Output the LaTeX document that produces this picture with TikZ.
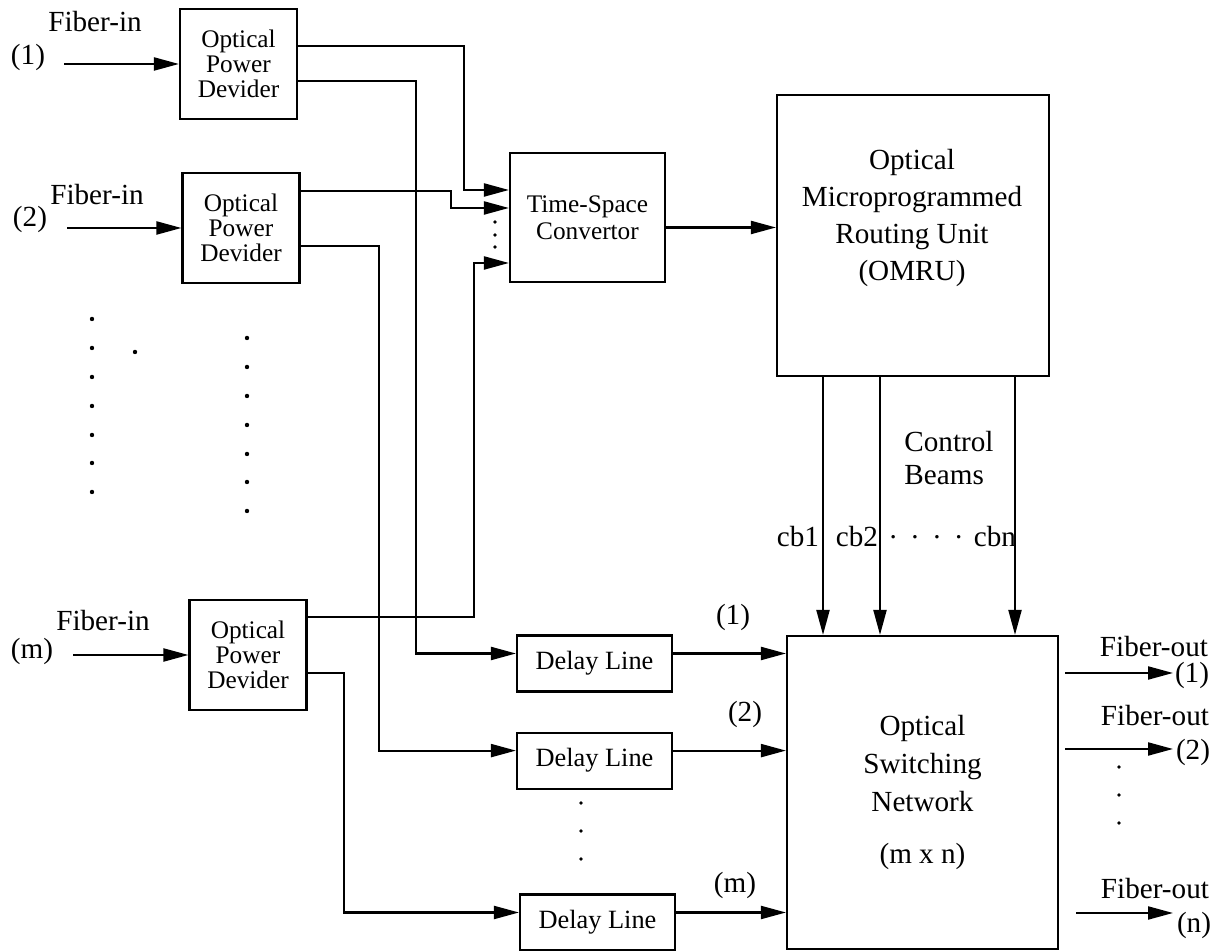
\documentclass[tikz,border=0pt]{standalone}
\usepackage{fontspec}
\setmainfont{Liberation Serif}
\usetikzlibrary{arrows.meta,calc,positioning}
\tikzstyle{pdiv} = [rectangle, draw, fill=white, minimum width=1.17cm, minimum height=1.1cm, inner sep=0pt, align=center, font=\fontsize{7.2}{7.2}\selectfont]
\tikzstyle{delay} = [rectangle, draw, fill=white, minimum width=1.55cm, minimum height=0.56cm, inner sep=0pt, font=\fontsize{7.5}{9}\selectfont]
\tikzstyle{unit} = [rectangle, draw, fill=white, inner sep=0pt, align=center, font=\fontsize{8.3}{10.8}\selectfont]
\tikzstyle{lbl} = [inner sep=0pt, font=\fontsize{8.3}{9.5}\selectfont]

\begin{document}
\begin{tikzpicture}[->,>={Triangle[length=2.5mm,width=1.3mm]},line width=0.6pt]
  \useasboundingbox (0,0) rectangle (12.21,-9.51);

  % power dividers
  \node[pdiv] (PD1) at (2.385,-0.64) {Optical\\Power\\Devider};
  \node[pdiv] (PD2) at (2.41,-2.28) {Optical\\Power\\Devider};
  \node[pdiv] (PDm) at (2.48,-6.55) {Optical\\Power\\Devider};

  % fiber inputs
  \coordinate (in1) at (0.64,-0.64);
  \coordinate (in2) at (0.67,-2.28);
  \coordinate (inm) at (0.73,-6.55);
  \node[lbl] (fin1) at (0.95,-0.22) {Fiber-in};
  \node[lbl] (num1) at (0.28,-0.58) {(1)};
  \node[lbl] (fin2) at (0.97,-1.95) {Fiber-in};
  \node[lbl] (num2) at (0.30,-2.20) {(2)};
  \node[lbl] (finm) at (1.03,-6.21) {Fiber-in};
  \node[lbl] (numm) at (0.32,-6.51) {(m)};
  \path (in1) edge (PD1);
  \path (in2) edge (PD2);
  \path (inm) edge (PDm);

  % time-space convertor and routing unit
  \node[unit, minimum width=1.55cm, minimum height=1.29cm, font=\fontsize{7.2}{7.8}\selectfont] (TSC) at (5.875,-2.175) {Time-Space\\Convertor};
  \node[unit, minimum width=2.72cm, minimum height=2.81cm] (OMRU) at (9.13,-2.355) {};
  \node[lbl, align=center, font=\fontsize{8.3}{10.6}\selectfont] (OMRUtext) at (9.12,-2.18) {Optical\\Microprogrammed\\Routing Unit\\(OMRU)};

  % switching network and delay lines
  \node[unit, minimum width=2.71cm, minimum height=3.13cm] (OSN) at (9.225,-7.925) {Optical\\Switching\\Network\\[4pt](m x n)};
  \node[delay] (DL1) at (5.945,-6.635) {Delay Line};
  \node[delay, below=0.39cm of DL1] (DL2) {Delay Line};
  \node[delay] (DLm) at (5.975,-9.225) {Delay Line};

  % into the convertor
  \coordinate (t1) at ([yshift=2.75mm]TSC.west);
  \coordinate (t2) at ([yshift=0.95mm]TSC.west);
  \coordinate (t3) at ([yshift=-4.55mm]TSC.west);
  \draw ([yshift=1.8mm]PD1.east) -| ($(t1)+(-0.45,0)$) -- (t1);
  \draw ([yshift=3.7mm]PD2.east) -| ($(t2)+(-0.58,0)$) -- (t2);
  \draw ([yshift=3.8mm]PDm.east) -| ($(t3)+(-0.35,0)$) -- (t3);
  \coordinate (tout) at ([yshift=-1mm]TSC.east);
  \draw (tout) -- (tout -| OMRU.west);

  % into the delay lines
  \coordinate (d1) at ([yshift=1mm]DL1.west);
  \coordinate (d2) at ([yshift=1mm]DL2.west);
  \coordinate (dm) at ([yshift=1mm]DLm.west);
  \draw ([yshift=-1.7mm]PD1.east) -| ($(d1)+(-1.0,0)$) -- (d1);
  \draw ([yshift=-1.8mm]PD2.east) -| ($(d2)+(-1.37,0)$) -- (d2);
  \draw ([yshift=-1.8mm]PDm.east) -| ($(dm)+(-1.75,0)$) -- (dm);

  % delay lines to the network
  \coordinate (o1) at ([yshift=1mm]DL1.east);
  \coordinate (o2) at ([yshift=1mm]DL2.east);
  \coordinate (om) at ([yshift=1mm]DLm.east);
  \draw (o1) -- (o1 -| OSN.west);
  \draw (o2) -- (o2 -| OSN.west);
  \draw (om) -- (om -| OSN.west);
  \node[lbl] (lin1) at (7.33,-6.17) {(1)};
  \node[lbl] (lin2) at (7.45,-7.14) {(2)};
  \node[lbl] (linm) at (7.35,-8.85) {(m)};

  % control beams
  \foreach \x/\c in {8.23/cb1,8.80/cb2,10.15/cbn} {
    \coordinate (\c) at (\x,0);
    \draw (OMRU.south -| \c) -- (OSN.north -| \c);
  }
  \node[lbl] (cbl1) at (7.98,-5.37) {cb1};
  \node[lbl] (cbl2) at (8.57,-5.37) {cb2};
  \node[lbl] (cbldots) at (9.26,-5.37) {.\ \ .\ \ .\ \ .};
  \node[lbl] (cbln) at (9.95,-5.37) {cbn};
  \node[lbl, align=left] (ctrl) at (9.49,-4.58) {Control\\Beams};

  % fiber outputs
  \foreach \y/\n/\s in {-6.73/1/0.6mm,-7.49/2/0.6mm,-9.13/n/1.7mm} {
    \coordinate (fo\n) at (11.73,\y);
    \draw ([xshift=\s]OSN.east |- fo\n) -- (fo\n);
  }
  \node[lbl, anchor=east] (fout1) at (12.09,-6.47) {Fiber-out};
  \node[lbl] (fnum1) at (11.92,-6.75) {(1)};
  \node[lbl, anchor=east] (fout2) at (12.10,-7.16) {Fiber-out};
  \node[lbl] (fnum2) at (11.93,-7.52) {(2)};
  \node[lbl, anchor=east] (foutn) at (12.10,-8.89) {Fiber-out};
  \node[lbl] (fnumn) at (11.94,-9.25) {(n)};

  % dots
  \foreach \y in {3.19,3.48,3.77,4.06,4.35,4.63,4.92} \fill[-] (0.92,-\y) circle (0.022);
  \fill[-] (1.35,-3.52) circle (0.022);
  \foreach \y in {3.38,3.67,3.96,4.25,4.54,4.82,5.11} \fill[-] (2.47,-\y) circle (0.022);
  \foreach \y in {2.22,2.35,2.47} \fill[-] (4.95,-\y) circle (0.018);
  \foreach \y in {8.03,8.31,8.59} \fill[-] (5.81,-\y) circle (0.018);
  \foreach \y in {7.67,7.95,8.23} \fill[-] (11.19,-\y) circle (0.018);
\end{tikzpicture}
\end{document}
